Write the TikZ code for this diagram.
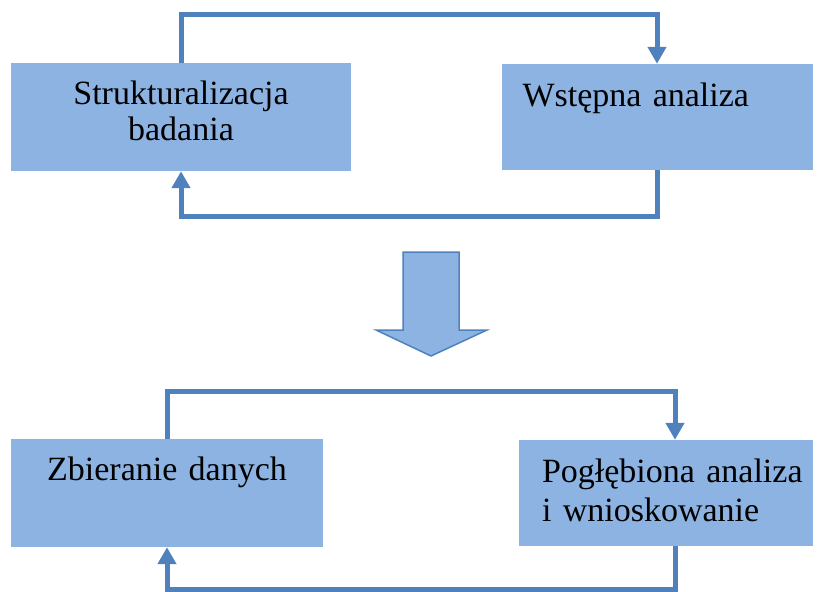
\documentclass[tikz,border=0pt]{standalone}
\usepackage{fontspec}
\setmainfont{Liberation Serif}
\usepackage{tikz}
\usetikzlibrary{arrows.meta,calc,positioning}
\definecolor{boxblue}{RGB}{141,179,226}
\definecolor{lineblue}{RGB}{79,129,189}
\tikzset{%
	box/.style      = {fill=boxblue, rectangle, inner sep=0pt, font=\fontsize{34}{36}\selectfont}, % Stage
	flow/.style     = {draw=lineblue, line width=5pt, -{Triangle[width=18pt,length=17pt]}}, % Loop
	bigarrow/.style = {fill=boxblue, draw=lineblue, line width=1.5pt, line join=miter}, % Next step
}
\begin{document}
\begin{tikzpicture}[x=1pt,y=-1pt,node distance=476pt]
	\useasboundingbox (0,0) rectangle (820,592);
	\node [box,text width=340pt,align=center,text height=41pt,text depth=67pt] (strukt) at (181,117) {Strukturalizacja\\badania};
	\node [box,text width=269pt,inner xsep=21pt,align=left,text height=42pt,text depth=64pt] (wstep) [right of=strukt] {Wstępna analiza};
	\node [box,text width=312pt,align=center,text height=41pt,text depth=67pt] (zbier) [below of=strukt,node distance=376pt,xshift=-14pt] {Zbieranie danych};
	\node [box,text width=248pt,inner xsep=23pt,align=left,text height=42pt,text depth=64pt] (poglab) [right of=zbier,node distance=499pt] {\mbox{Pogłębiona analiza}\\[3pt]\mbox{i wnioskowanie}};
	
	\draw[flow] (strukt.north) -- ++(0,-48) -| (wstep.north);
	\draw[flow] (wstep.south) -- ++(0,46) -| (strukt.south);
	\draw[flow] (zbier.north) -- ++(0,-47) -| ([xshift=9pt]poglab.north);
	\draw[flow] ([xshift=9pt]poglab.south) -- ++(0,43) -| (zbier.south);
	
	\draw[bigarrow] (403,252) -- (459,252) -- (459,330) -- (487,330) -- (431,356) -- (376,330) -- (403,330) -- cycle;
\end{tikzpicture}
\end{document}
